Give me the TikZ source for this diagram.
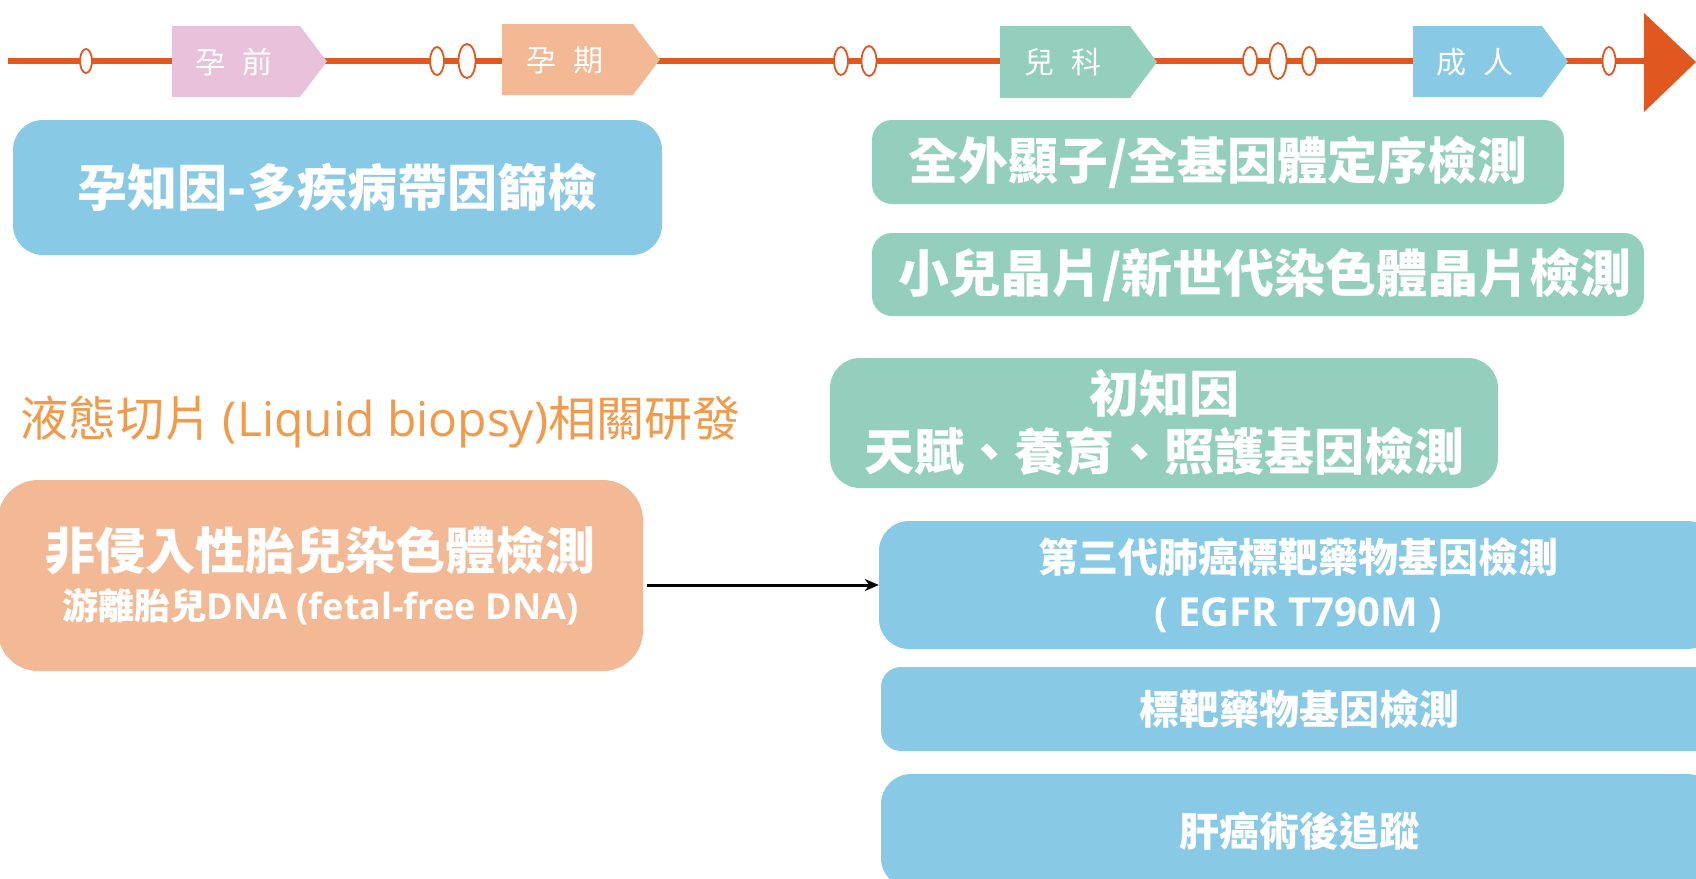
\documentclass[tikz,border=0pt]{standalone}
\usepackage{fontspec}
\setmainfont{Noto Sans CJK TC}
\newfontfamily\lat{Open Sans}
\usetikzlibrary{arrows.meta}
\definecolor{tlc}{HTML}{E0571F}
\definecolor{pinkc}{HTML}{E8C2DB}
\definecolor{peachc}{HTML}{F3B994}
\definecolor{greenc}{HTML}{93CFBC}
\definecolor{bluec}{HTML}{88C9E6}
\definecolor{orangetxt}{HTML}{F29A4C}
\newcommand{\fs}[1]{\fontsize{#1}{#1}\selectfont}
\begin{document}
\begin{tikzpicture}[x=1pt,y=-1pt,
  tbox/.style={rounded corners=#1, text=white, align=center, inner sep=0pt, anchor=center},
  tick/.style={fill=white, draw=tlc, line width=1.8pt},
  lab/.style={text=white, inner sep=0pt, font=\fs{30}},
]
\useasboundingbox (0,0) rectangle (1696,878);
\clip (0,0) rectangle (1696,878);

% timeline
\draw[tlc, line width=6.5pt] (8,61) -- (1648,61);
\fill[tlc] (1644,13) -- (1696,62) -- (1644,112) -- cycle;

\filldraw[tick] (86,61) ellipse [x radius=6, y radius=12];
\filldraw[tick] (437,61) ellipse [x radius=7, y radius=14];
\filldraw[tick] (467,61) ellipse [x radius=8.5, y radius=17];
\filldraw[tick] (841,61) ellipse [x radius=7, y radius=14];
\filldraw[tick] (869,61) ellipse [x radius=7.5, y radius=15];
\filldraw[tick] (1250,61) ellipse [x radius=7, y radius=14];
\filldraw[tick] (1278,61) ellipse [x radius=8.5, y radius=18];
\filldraw[tick] (1309,61) ellipse [x radius=7, y radius=14];
\filldraw[tick] (1609,61) ellipse [x radius=6.5, y radius=14];

\fill[pinkc] (172,26) -- (300,26) -- (327,61.5) -- (300,97) -- (172,97) -- cycle;
\node[lab] (l1) at (234,62) {孕\hspace{0.55em}前};
\fill[peachc] (502,24) -- (633,24) -- (660,59.5) -- (633,95) -- (502,95) -- cycle;
\node[lab] (l2) at (565,60) {孕\hspace{0.55em}期};
\fill[greenc] (1000,26) -- (1130,26) -- (1157,62) -- (1130,98) -- (1000,98) -- cycle;
\node[lab] (l3) at (1063,62) {兒\hspace{0.55em}科};
\fill[bluec] (1413,26) -- (1542,26) -- (1568,61.5) -- (1542,97) -- (1413,97) -- cycle;
\node[lab] (l4) at (1475,62) {成\hspace{0.55em}人};

% boxes
\node[tbox=30pt, fill=bluec, minimum width=649pt, minimum height=135pt, font=\bfseries\fs{50}] (b1) at (337.5,187.5) {孕知因-多疾病帶因篩檢};
\node[tbox=20pt, fill=greenc, minimum width=692pt, minimum height=84pt, font=\bfseries\fs{50}] (b2) at (1218,162) {全外顯子/全基因體定序檢測};
\node[tbox=20pt, fill=greenc, minimum width=772pt, minimum height=83pt, font=\bfseries\fs{51}] (b3) at (1258,274.5) {\hspace{14pt}小兒晶片/新世代染色體晶片檢測};
\node[tbox=30pt, fill=greenc, minimum width=668pt, minimum height=130pt, font=\bfseries\fs{50}] (b4) at (1164,423) {初知因\\[8pt]天賦、養育、照護基因檢測};

\node[anchor=west, inner sep=0pt, text=orangetxt, font=\fs{48}] (lq) at (20,422) {液態切片 {\lat (Liquid biopsy)}相關研發};

\node[tbox=40pt, fill=peachc, minimum width=645pt, minimum height=191pt] (b6) at (320.5,575.5) {{\bfseries\fs{50}非侵入性胎兒染色體檢測}\\[12pt] {\bfseries\fs{36}游離胎兒{\lat DNA (fetal-free DNA)}}};

\node[tbox=30pt, fill=bluec, minimum width=838pt, minimum height=128pt, font=\bfseries\fs{40}] (b8) at (1298,585) {第三代肺癌標靶藥物基因檢測\\[14pt]{\lat ( EGFR T790M )}};
\node[tbox=20pt, fill=bluec, minimum width=836pt, minimum height=84pt, font=\bfseries\fs{40}] (b9) at (1299,709) {標靶藥物基因檢測};
\node[tbox=30pt, fill=bluec, minimum width=836pt, minimum height=114pt, font=\bfseries\fs{40}] (b10) at (1299,831) {肝癌術後追蹤};

\draw[line width=3pt, -{Stealth[length=14pt,width=12pt]}] ([xshift=4pt]b6.east |- b8.west) -- (b8.west);
\end{tikzpicture}
\end{document}
